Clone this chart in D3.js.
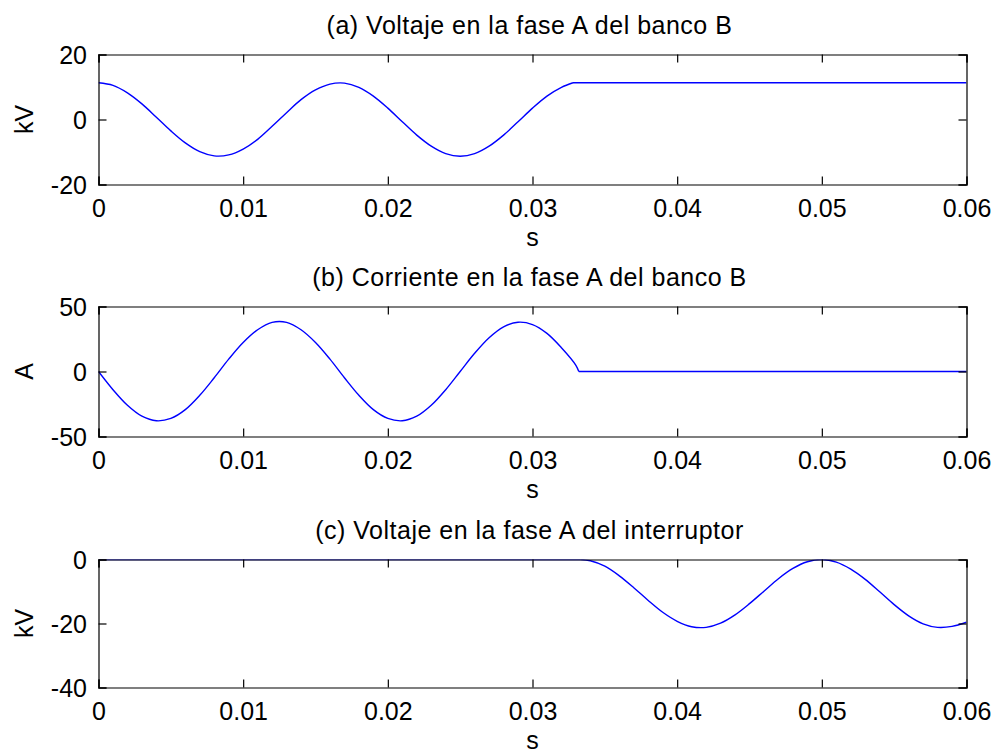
<!DOCTYPE html>
<html>
<head>
<meta charset="utf-8">
<script src="https://cdn.jsdelivr.net/npm/d3@7"></script>
<style>
  body { margin: 0; background: #fff; }
  svg text { font-family: "Liberation Sans", Arial, sans-serif; fill: #000; }
</style>
</head>
<body>
<svg id="chart" width="994" height="752"></svg>
<script>
// time axis, seconds
var xTicks = [0, 0.01, 0.02, 0.03, 0.04, 0.05, 0.06];
var xTickLabels = ["0", "0.01", "0.02", "0.03", "0.04", "0.05", "0.06"];

// (a) voltage on phase A of bank B, kV
var tA = [0, 0.001, 0.002, 0.003, 0.004, 0.005, 0.006, 0.007, 0.008, 0.009, 0.010,
          0.011, 0.012, 0.013, 0.014, 0.015, 0.016, 0.017, 0.018, 0.019, 0.020,
          0.021, 0.022, 0.023, 0.024, 0.025, 0.026, 0.027, 0.028, 0.029, 0.030,
          0.031, 0.032, 0.0328, 0.06];
var vA = [11.3, 10.5, 8.2, 4.8, 0.7, -3.5, -7.2, -9.9, -11.2, -10.9, -9.1,
          -6.1, -2.1, 2.1, 6.1, 9.1, 10.9, 11.2, 9.9, 7.2, 3.5,
          -0.7, -4.8, -8.2, -10.5, -11.3, -10.5, -8.2, -4.8, -0.7, 3.5,
          7.2, 9.9, 11.3, 11.3];

// (b) current on phase A of bank B, A
var tB = [0, 0.001, 0.002, 0.003, 0.004, 0.005, 0.006, 0.007, 0.008, 0.009, 0.010,
          0.011, 0.012, 0.013, 0.014, 0.015, 0.016, 0.017, 0.018, 0.019, 0.020,
          0.021, 0.022, 0.023, 0.024, 0.025, 0.026, 0.027, 0.028, 0.029, 0.030,
          0.031, 0.032, 0.033, 0.0332, 0.06];
var iB = [0, -14.0, -26.0, -34.4, -37.9, -36.1, -29.3, -18.3, -4.8, 9.5, 22.3,
          32.1, 37.8, 37.8, 32.1, 22.3, 9.5, -4.8, -18.3, -29.3, -36.1,
          -37.9, -34.4, -26.0, -14.0, 0, 14.0, 26.0, 34.4, 37.9, 36.1,
          29.3, 18.3, 4.8, 0, 0];

// (c) voltage across the breaker, phase A, kV
var tC = [0, 0.0333, 0.034, 0.035, 0.036, 0.037, 0.038, 0.039, 0.040,
          0.041, 0.042, 0.043, 0.044, 0.045, 0.046, 0.047, 0.048, 0.049, 0.050,
          0.051, 0.052, 0.053, 0.054, 0.055, 0.056, 0.057, 0.058, 0.059, 0.060];
var vC = [0, 0, -0.4, -2.1, -5.1, -8.8, -12.8, -16.5, -19.3,
          -21.0, -21.2, -19.9, -17.3, -13.8, -9.9, -6.0, -2.8, -0.7, 0,
          -0.8, -3.0, -6.2, -10.1, -14.1, -17.6, -20.1, -21.2, -20.9, -19.6];

// time where the breaker opens / closes the waveform (kink in the trace)
var kinkA = 0.0328, kinkB = 0.0332, kinkC = 0.0333;

var panels = [
    { title: "(a) Voltaje en la fase A del banco B", ylabel: "kV", t: tA, v: vA, kink: kinkA, flatAfter: true,
      yDomain: [-20, 20], yTicks: [-20, 0, 20], top: 54.5, bottom: 184.5 },
    { title: "(b) Corriente en la fase A del banco B", ylabel: "A", t: tB, v: iB, kink: kinkB, flatAfter: true,
      yDomain: [-50, 50], yTicks: [-50, 0, 50], top: 306.5, bottom: 436.5 },
    { title: "(c) Voltaje en la fase A del interruptor", ylabel: "kV", t: tC, v: vC, kink: kinkC, flatAfter: false,
      yDomain: [-40, 0], yTicks: [-40, -20, 0], top: 559.5, bottom: 687.5 }
];

var left = 98.5, right = 966.5;
var fontSize = 25;
var tickLen = 8;

var svg = d3.select("#chart");

var x = d3.scaleLinear().domain([0, 0.06]).range([left, right]);

panels.forEach(function (p, i) {
    var y = d3.scaleLinear().domain(p.yDomain).range([p.bottom, p.top]);
    var g = svg.append("g").attr("class", "panel");

    g.append("clipPath").attr("id", "clip" + i)
        .append("rect")
        .attr("x", left).attr("y", p.top)
        .attr("width", right - left).attr("height", p.bottom - p.top);

    var pts = p.t.map(function (t, k) { return [t, p.v[k]]; });
    var before = pts.filter(function (d) { return d[0] <= p.kink; });
    var after = pts.filter(function (d) { return d[0] >= p.kink; });

    var smooth = d3.line()
        .x(function (d) { return x(d[0]); })
        .y(function (d) { return y(d[1]); })
        .curve(d3.curveCatmullRom.alpha(0.5));
    var straight = d3.line()
        .x(function (d) { return x(d[0]); })
        .y(function (d) { return y(d[1]); });

    var parts = p.flatAfter ? [[before, smooth], [after, straight]] : [[before, straight], [after, smooth]];
    parts.forEach(function (part) {
        g.append("path")
            .datum(part[0])
            .attr("clip-path", "url(#clip" + i + ")")
            .attr("fill", "none")
            .attr("stroke", "#0000ff")
            .attr("stroke-width", 1.4)
            .attr("stroke-linejoin", "round")
            .attr("d", part[1]);
    });

    // axes box on top of the data, matlab style ticks inside on all sides
    var bottomAxis = d3.axisBottom(x).tickValues(xTicks)
        .tickSize(-tickLen).tickFormat(function (d, k) { return xTickLabels[k]; });
    var topAxis = d3.axisTop(x).tickValues(xTicks).tickSize(-tickLen).tickFormat("");
    var leftAxis = d3.axisLeft(y).tickValues(p.yTicks).tickSize(-tickLen).tickFormat(d3.format("d"));
    var rightAxis = d3.axisRight(y).tickValues(p.yTicks).tickSize(-tickLen).tickFormat("");

    var gb = g.append("g").attr("transform", "translate(0," + p.bottom + ")").call(bottomAxis);
    gb.selectAll("text").attr("dy", null).attr("y", 32).attr("font-size", fontSize);
    g.append("g").attr("transform", "translate(0," + p.top + ")").call(topAxis);
    var gl = g.append("g").attr("transform", "translate(" + left + ",0)").call(leftAxis);
    gl.selectAll("text").attr("dy", null).attr("x", -11.5).attr("y", 9)
        .attr("font-size", fontSize)
        .text(function (d) { return d < 0 ? "-" + Math.abs(d) : d; });
    g.append("g").attr("transform", "translate(" + right + ",0)").call(rightAxis);

    g.selectAll(".domain").attr("stroke", "#000").attr("stroke-width", 1.2);
    g.selectAll(".tick line").attr("stroke", "#000").attr("stroke-width", 1.2);
    g.selectAll(".tick text").attr("font-family", "Liberation Sans, Arial, sans-serif").attr("fill", "#000");

    // labels
    g.append("text")
        .attr("x", (left + right) / 2 - 3)
        .attr("y", p.top - 20.5)
        .attr("text-anchor", "middle")
        .attr("font-size", fontSize)
        .attr("letter-spacing", 0.5)
        .text(p.title);

    g.append("text")
        .attr("x", (left + right) / 2)
        .attr("y", p.bottom + 61)
        .attr("text-anchor", "middle")
        .attr("font-size", fontSize)
        .text("s");

    g.append("text")
        .attr("transform", "translate(33," + ((p.top + p.bottom) / 2) + ") rotate(-90)")
        .attr("text-anchor", "middle")
        .attr("font-size", fontSize)
        .text(p.ylabel);
});
</script>
</body>
</html>
